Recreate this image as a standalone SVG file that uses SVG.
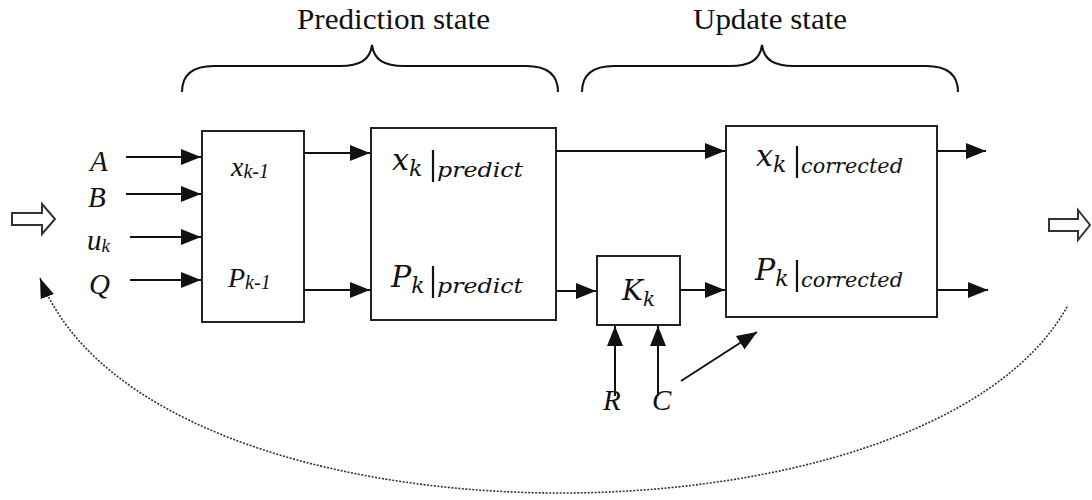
<svg xmlns="http://www.w3.org/2000/svg" width="1092" height="500" viewBox="0 0 1092 500">
<style>
.box{fill:#fff;stroke:#222;stroke-width:2}
.ln{fill:none;stroke:#111;stroke-width:2}
.t{font-family:"Liberation Serif",serif;font-style:italic;fill:#111}
.m{font-family:"DejaVu Serif",serif;font-style:italic;fill:#111}
.h{font-family:"Liberation Serif",serif;font-size:30px;fill:#111}
.hol{fill:#fff;stroke:#333;stroke-width:2}
.bar{stroke:#111;stroke-width:2.2}
</style>
<defs>
<marker id="ah2" viewBox="0 0 10 10" refX="10" refY="5" markerWidth="20" markerHeight="20" markerUnits="userSpaceOnUse" orient="auto-start-reverse">
<path d="M0,1 L10,5 L0,9 z" fill="#111"/>
</marker>
<marker id="ah3" viewBox="0 0 10 10" refX="10" refY="5" markerWidth="20" markerHeight="20" markerUnits="userSpaceOnUse" orient="auto-start-reverse">
<path d="M0,1.5 L10,5 L0,8.5 z" fill="#111"/>
</marker>
</defs>

<g id="titles">
<text class="h" x="297" y="29" textLength="193" lengthAdjust="spacingAndGlyphs">Prediction state</text>
<text class="h" x="693" y="29" textLength="154" lengthAdjust="spacingAndGlyphs">Update state</text>
<path class="ln" d="M182,92 C182,74 194,66 214,66 L340,66 C360,66 370,60 372,45 C374,60 384,66 404,66 L526,66 C546,66 558,74 558,92"/>
<path class="ln" d="M582,92 C582,74 594,66 614,66 L730,66 C750,66 760,60 762,45 C764,60 774,66 794,66 L926,66 C946,66 958,74 958,92"/>
</g>

<g id="hollow-arrows">
<polygon class="hol" points="12,213 42,213 42,204 55,219 42,234 42,225 12,225"/>
<polygon class="hol" points="1049,219 1078,219 1078,210 1090,225 1078,240 1078,231 1049,231"/>
</g>

<g id="inputs">
<text class="t" x="90" y="171" font-size="29">A</text>
<text class="t" x="88" y="207" font-size="29">B</text>
<text class="t" x="87" y="250" font-size="29">u<tspan font-size="19" dy="2">k</tspan></text>
<text class="t" x="89" y="294" font-size="29">Q</text>
</g>

<g id="node-prev">
<rect class="box" x="202" y="131" width="102" height="191"/>
<text class="t" x="231" y="176" font-size="28">x<tspan font-size="20" dy="2">k-1</tspan></text>
<text class="t" x="228" y="287" font-size="28">P<tspan font-size="20" dy="2">k-1</tspan></text>
</g>

<g id="node-predict">
<rect class="box" x="371" y="128" width="185" height="192"/>
<text class="m" x="392" y="170" font-size="30">x<tspan font-size="22" dy="6">k</tspan></text>
<line class="bar" x1="433" y1="150" x2="433" y2="182"/>
<text class="m" x="437" y="177" font-size="21" textLength="86" lengthAdjust="spacingAndGlyphs">predict</text>
<text class="m" x="391" y="287" font-size="30">P<tspan font-size="22" dy="6">k</tspan></text>
<line class="bar" x1="433" y1="266" x2="433" y2="298"/>
<text class="m" x="437" y="293" font-size="21" textLength="86" lengthAdjust="spacingAndGlyphs">predict</text>
</g>

<g id="node-gain">
<rect class="box" x="597" y="256" width="83" height="69"/>
<text class="m" x="622" y="300" font-size="28">K<tspan font-size="20" dy="6">k</tspan></text>
</g>

<g id="node-corrected">
<rect class="box" x="726" y="126" width="211" height="191"/>
<text class="m" x="756" y="166" font-size="30">x<tspan font-size="22" dy="6">k</tspan></text>
<line class="bar" x1="797" y1="146" x2="797" y2="178"/>
<text class="m" x="801" y="173" font-size="21" textLength="102" lengthAdjust="spacingAndGlyphs">corrected</text>
<text class="m" x="755" y="280" font-size="30">P<tspan font-size="22" dy="6">k</tspan></text>
<line class="bar" x1="797" y1="260" x2="797" y2="292"/>
<text class="m" x="801" y="287" font-size="21" textLength="102" lengthAdjust="spacingAndGlyphs">corrected</text>
</g>

<g id="rc-labels">
<text class="t" x="603" y="410" font-size="29">R</text>
<text class="t" x="652" y="410" font-size="29">C</text>
</g>

<g id="connectors">
<line class="ln" x1="126" y1="157" x2="201" y2="157" marker-end="url(#ah2)"/>
<line class="ln" x1="126" y1="194" x2="201" y2="194" marker-end="url(#ah2)"/>
<line class="ln" x1="130" y1="237" x2="201" y2="237" marker-end="url(#ah2)"/>
<line class="ln" x1="130" y1="280" x2="201" y2="280" marker-end="url(#ah2)"/>
<line class="ln" x1="304" y1="153" x2="370" y2="153" marker-end="url(#ah2)"/>
<line class="ln" x1="304" y1="290" x2="370" y2="290" marker-end="url(#ah2)"/>
<line class="ln" x1="556" y1="151" x2="725" y2="151" marker-end="url(#ah2)"/>
<line class="ln" x1="556" y1="291" x2="596" y2="291" marker-end="url(#ah2)"/>
<line class="ln" x1="680" y1="290" x2="725" y2="290" marker-end="url(#ah2)"/>
<line class="ln" x1="937" y1="151" x2="986" y2="151" marker-end="url(#ah2)"/>
<line class="ln" x1="937" y1="290" x2="988" y2="290" marker-end="url(#ah2)"/>
<line class="ln" x1="615" y1="396" x2="615" y2="326" marker-end="url(#ah2)"/>
<line class="ln" x1="658" y1="396" x2="658" y2="326" marker-end="url(#ah2)"/>
<line class="ln" x1="681" y1="381" x2="757" y2="332" marker-end="url(#ah2)"/>
<path d="M40,278 C150,560 930,560 1068,305" fill="none" stroke="#333" stroke-width="1.6" stroke-dasharray="2 1.5" marker-start="url(#ah3)"/>
</g>
</svg>
